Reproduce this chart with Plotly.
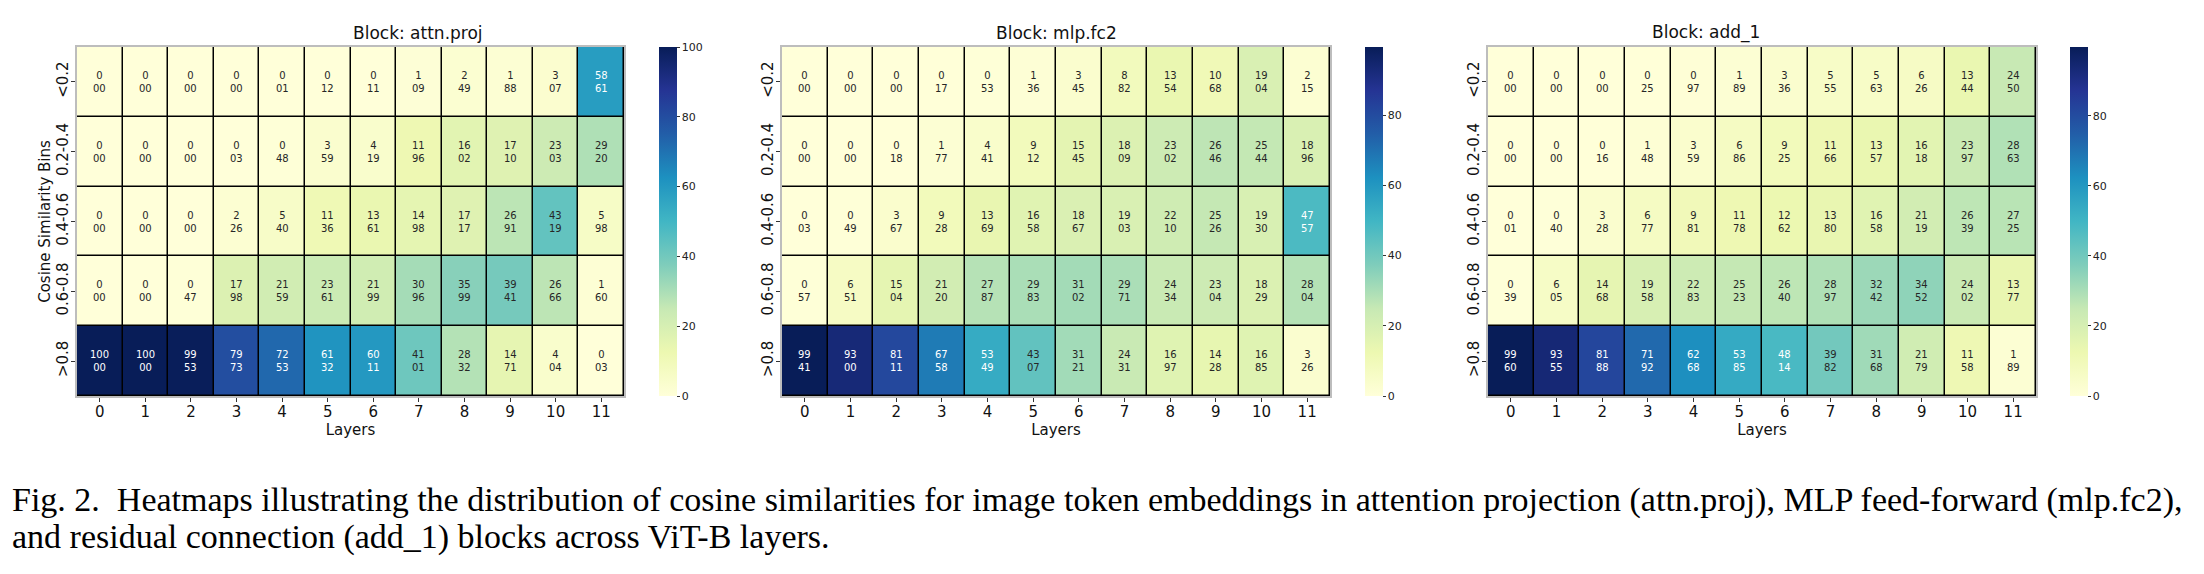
import plotly.graph_objects as go

layers = list(range(12))
bins = ["<0.2", "0.2-0.4", "0.4-0.6", "0.6-0.8", ">0.8"]
block_titles = ["Block: attn.proj", "Block: mlp.fc2", "Block: add_1"]

attn_proj = [
    [0.00, 0.00, 0.00, 0.00, 0.01, 0.12, 0.11, 1.09, 2.49, 1.88, 3.07, 58.61],
    [0.00, 0.00, 0.00, 0.03, 0.48, 3.59, 4.19, 11.96, 16.02, 17.10, 23.03, 29.20],
    [0.00, 0.00, 0.00, 2.26, 5.40, 11.36, 13.61, 14.98, 17.17, 26.91, 43.19, 5.98],
    [0.00, 0.00, 0.47, 17.98, 21.59, 23.61, 21.99, 30.96, 35.99, 39.41, 26.66, 1.60],
    [100.00, 100.00, 99.53, 79.73, 72.53, 61.32, 60.11, 41.01, 28.32, 14.71, 4.04, 0.03],
]
mlp_fc2 = [
    [0.00, 0.00, 0.00, 0.17, 0.53, 1.36, 3.45, 8.82, 13.54, 10.68, 19.04, 2.15],
    [0.00, 0.00, 0.18, 1.77, 4.41, 9.12, 15.45, 18.09, 23.02, 26.46, 25.44, 18.96],
    [0.03, 0.49, 3.67, 9.28, 13.69, 16.58, 18.67, 19.03, 22.10, 25.26, 19.30, 47.57],
    [0.57, 6.51, 15.04, 21.20, 27.87, 29.83, 31.02, 29.71, 24.34, 23.04, 18.29, 28.04],
    [99.41, 93.00, 81.11, 67.58, 53.49, 43.07, 31.21, 24.31, 16.97, 14.28, 16.85, 3.26],
]
add_1 = [
    [0.00, 0.00, 0.00, 0.25, 0.97, 1.89, 3.36, 5.55, 5.63, 6.26, 13.44, 24.50],
    [0.00, 0.00, 0.16, 1.48, 3.59, 6.86, 9.25, 11.66, 13.57, 16.18, 23.97, 28.63],
    [0.01, 0.40, 3.28, 6.77, 9.81, 11.78, 12.62, 13.80, 16.58, 21.19, 26.39, 27.25],
    [0.39, 6.05, 14.68, 19.58, 22.83, 25.23, 26.40, 28.97, 32.42, 34.52, 24.02, 13.77],
    [99.60, 93.55, 81.88, 71.92, 62.68, 53.85, 48.14, 39.82, 31.68, 21.79, 11.58, 1.89],
]
blocks = [attn_proj, mlp_fc2, add_1]

caption_1 = ("Fig. 2.\u00a0 Heatmaps illustrating the distribution of cosine similarities for image token "
             "embeddings in attention projection (attn.proj), MLP feed-forward (mlp.fc2),")
caption_2 = "and residual connection (add_1) blocks across ViT-B layers."

# YlGnBu (ColorBrewer 9-class)
ylgnbu_hex = ["#ffffd9", "#edf8b1", "#c7e9b4", "#7fcdbb", "#41b6c4",
              "#1d91c0", "#225ea8", "#253494", "#081d58"]
colorscale = [[i / 8, c] for i, c in enumerate(ylgnbu_hex)]


def hex_rgb(h):
    return [int(h[i:i + 2], 16) for i in (1, 3, 5)]


def cmap(t):
    t = min(max(t, 0.0), 1.0) * 8
    i = min(int(t), 7)
    f = t - i
    a, b = hex_rgb(ylgnbu_hex[i]), hex_rgb(ylgnbu_hex[i + 1])
    return [a[k] + (b[k] - a[k]) * f for k in range(3)]


def luminance(rgb):
    out = []
    for c in rgb:
        c = c / 255
        out.append(c / 12.92 if c <= 0.03928 else ((c + 0.055) / 1.055) ** 2.4)
    return 0.2126 * out[0] + 0.7152 * out[1] + 0.0722 * out[2]


W, H = 2204, 574
FONT = "DejaVu Sans"
x_px = [(77, 624), (782, 1330), (1488, 2036)]
cb_px = [659, 1365, 2070]
top_px, bot_px = 47, 396
y_dom = [(H - bot_px) / H, (H - top_px) / H]

fig = go.Figure()
annotations = []
for k, z in enumerate(blocks):
    zmax = max(max(r) for r in z)
    ax = "" if k == 0 else str(k + 1)
    fig.add_trace(go.Heatmap(
        z=z, x=layers, y=bins, zmin=0, zmax=zmax,
        colorscale=colorscale, xgap=1.5, ygap=1.5,
        xaxis="x" + ax, yaxis="y" + ax, hoverinfo="skip",
        colorbar=dict(
            x=cb_px[k] / W, xanchor="left", xref="paper", xpad=0, ypad=0,
            y=y_dom[1], yanchor="top", len=bot_px - top_px, lenmode="pixels",
            thickness=18, outlinewidth=0, tick0=0, dtick=20,
            ticks="outside", ticklen=3, tickwidth=1, tickcolor="#333",
            tickfont=dict(family=FONT, size=11, color="#222"),
        ),
    ))
    for r, row in enumerate(z):
        for c, v in enumerate(row):
            lum = luminance(cmap(v / zmax))
            col = "#262626" if lum > 0.408 else "#ffffff"
            annotations.append(dict(
                x=layers[c], y=bins[r], xref="x" + ax, yref="y" + ax,
                text=f"{v:.2f}".replace(".", "<br>"), showarrow=False,
                font=dict(family=FONT, size=10, color=col),
            ))
    annotations.append(dict(
        x=(x_px[k][0] + x_px[k][1]) / 2 / W, y=y_dom[1], xref="paper", yref="paper",
        yanchor="bottom", yshift=2, text=block_titles[k], showarrow=False,
        font=dict(family=FONT, size=17, color="#111"),
    ))
    xa = dict(domain=[x_px[k][0] / W, x_px[k][1] / W], anchor="y" + ax,
              range=[-0.5, 11.5], tickmode="array", tickvals=layers,
              ticks="outside", ticklen=4, tickcolor="#333", ticklabelstandoff=-3,
              tickfont=dict(family=FONT, size=15, color="#111"),
              showline=True, mirror=True, linecolor="#bdbdbd", linewidth=1.5,
              showgrid=False, zeroline=False,
              title=dict(text="Layers", standoff=0, font=dict(family=FONT, size=15, color="#111")))
    ya = dict(domain=y_dom, anchor="x" + ax, autorange="reversed",
              ticks="outside", ticklen=4, tickcolor="#333", tickangle=-90,
              ticklabelstandoff=-3,
              tickfont=dict(family=FONT, size=15, color="#111"),
              showline=True, mirror=True, linecolor="#bdbdbd", linewidth=1.5,
              showgrid=False, zeroline=False)
    if k == 0:
        ya["title"] = dict(text="Cosine Similarity Bins", standoff=0,
                           font=dict(family=FONT, size=15, color="#111"))
    fig.update_layout(**{"xaxis" + ax: xa, "yaxis" + ax: ya})

annotations.append(dict(x=10 / W, y=(H - 500) / H, xref="paper", yref="paper",
                        xanchor="left", yanchor="middle", text=caption_1, showarrow=False,
                        font=dict(family="Liberation Serif", size=34, color="#000")))
annotations.append(dict(x=10 / W, y=(H - 537) / H, xref="paper", yref="paper",
                        xanchor="left", yanchor="middle", text=caption_2, showarrow=False,
                        font=dict(family="Liberation Serif", size=34, color="#000")))

fig.update_layout(
    width=W, height=H, margin=dict(l=0, r=0, t=0, b=0, autoexpand=False),
    paper_bgcolor="white", plot_bgcolor="black",
    annotations=annotations, showlegend=False,
    font=dict(family=FONT),
)
fig.write_html("out.html", config={"displayModeBar": False},
               post_script="document.body.style.margin='0';")
